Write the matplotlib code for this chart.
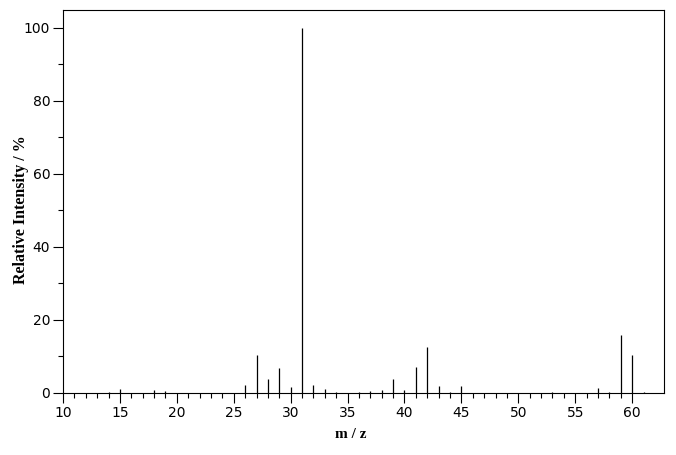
import matplotlib
matplotlib.use("Agg")
import matplotlib.pyplot as plt
from matplotlib.ticker import MultipleLocator, FixedLocator

mz = [14, 15, 18, 19, 26, 27, 28, 29, 30, 31, 32, 33, 34, 36, 37, 38, 39, 40,
      41, 42, 43, 44, 45, 53, 57, 58, 59, 60, 61]
intensity = [0.3, 1.1, 0.8, 0.5, 2.2, 10.4, 3.8, 6.8, 1.6, 100.0, 2.2, 1.1, 0.3,
             0.3, 0.5, 0.8, 3.8, 0.8, 7.1, 12.6, 1.9, 0.3, 1.9, 0.3, 1.4, 0.3,
             15.9, 10.4, 0.3]

fig = plt.figure(figsize=(6.76, 4.55), dpi=100)
ax = fig.add_axes([63 / 676, 1 - 393 / 455, 601 / 676, 383 / 455])

ax.vlines(mz, 0, intensity, colors="black", linewidth=0.9)

ax.set_xlim(10, 62.8)
ax.set_ylim(0, 104.9)

ax.xaxis.set_major_locator(FixedLocator(range(10, 61, 5)))
ax.xaxis.set_minor_locator(FixedLocator(range(10, 61, 1)))
ax.yaxis.set_major_locator(MultipleLocator(20))
ax.yaxis.set_minor_locator(MultipleLocator(10))

ax.tick_params(which="major", length=7.2, width=0.8, labelsize=10, pad=2)
ax.tick_params(which="minor", length=3.6, width=0.8)
for s in ax.spines.values():
    s.set_linewidth(0.8)

ax.set_xlabel("m / z", fontfamily="Liberation Serif", fontweight="bold",
              fontsize=11, va="center")
ax.set_ylabel("Relative Intensity / %", fontfamily="Liberation Serif",
              fontweight="bold", fontsize=11.5, va="center")
ax.xaxis.set_label_coords(0.479, -0.108)
ax.yaxis.set_label_coords(-0.0695, 0.48)

fig.savefig("out.png", dpi=100)
